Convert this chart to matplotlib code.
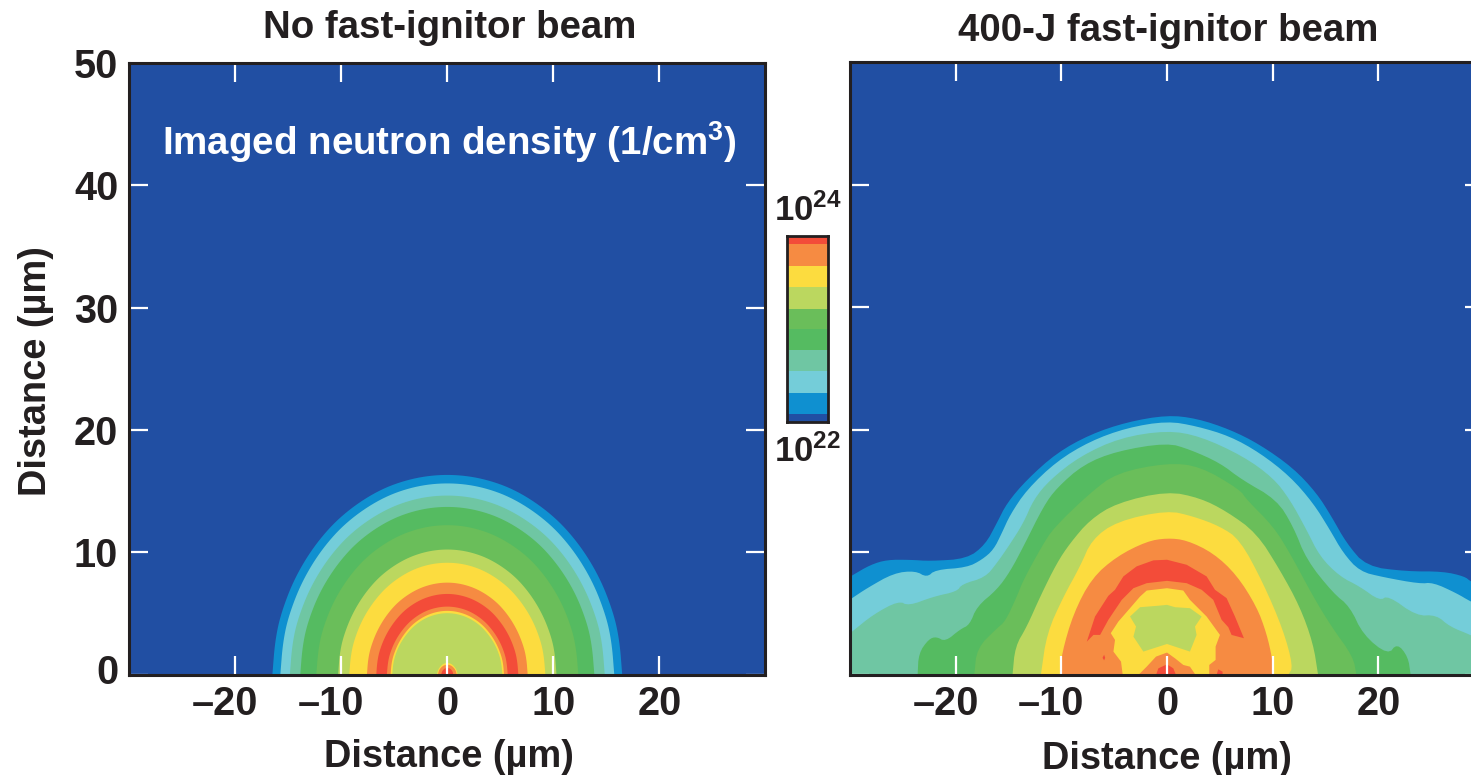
import numpy as np
import matplotlib
matplotlib.use("Agg")
import matplotlib.pyplot as plt
from matplotlib.transforms import ScaledTranslation

plt.rcParams['font.family'] = ['Liberation Sans', 'DejaVu Sans']
plt.rcParams['font.weight'] = 'bold'
plt.rcParams['mathtext.default'] = 'regular'

BG = '#214fa3'
BLUE = '#0f90d0'
LIGHT = '#74cdd9'
TEAL = '#6fc6a3'
GREEN = '#55bb61'
GREEN2 = '#6abe5a'
OLIVE = '#bbd75f'
YELLOW = '#fcdc3f'
ORANGE = '#f68b42'
RED = '#f34c39'
INK = '#231f20'

x_ticks = [-20, -10, 0, 10, 20]
x_tick_labels = ['\u201320', '\u201310', '0', '10', '20']
y_ticks = [0, 10, 20, 30, 40, 50]
y_tick_labels = ['0', '10', '20', '30', '40', '50']

# --- No-beam panel: half contours (x >= 0), mirrored about x = 0
no_beam_levels = [
    (BLUE, [0, 3.3, 6.6, 9.9, 12.38, 14.36, 15.68, 16.25, 16.5], [16.4, 16.07, 15.05, 13.1, 10.76, 7.99, 5.05, 2.77, 0]),
    (LIGHT, [0, 3.15, 6.3, 9.45, 11.81, 13.7, 14.96, 15.51, 15.75], [15.7, 15.39, 14.4, 12.54, 10.3, 7.64, 4.84, 2.65, 0]),
    (TEAL, [0, 2.97, 5.94, 8.91, 11.14, 12.92, 14.11, 14.63, 14.85], [14.7, 14.41, 13.47, 11.74, 9.64, 7.15, 4.53, 2.48, 0]),
    (GREEN, [0, 2.77, 5.55, 8.32, 10.4, 12.07, 13.18, 13.66, 13.87], [13.77, 13.49, 12.62, 11.0, 9.02, 6.7, 4.24, 2.32, 0]),
    (GREEN2, [0, 2.47, 4.94, 7.42, 9.27, 10.75, 11.74, 12.17, 12.36], [12.27, 12.02, 11.24, 9.8, 8.03, 5.96, 3.77, 2.07, 0]),
    (OLIVE, [0, 2.06, 4.12, 6.18, 7.73, 8.96, 9.79, 10.15, 10.3], [10.27, 10.06, 9.41, 8.2, 6.71, 4.98, 3.15, 1.73, 0]),
    (YELLOW, [0, 1.85, 3.7, 5.55, 6.94, 8.05, 8.79, 9.11, 9.25], [9.18, 9.0, 8.41, 7.32, 5.99, 4.45, 2.81, 1.54, 0]),
    (ORANGE, [0, 1.52, 3.03, 4.55, 5.69, 6.59, 7.2, 7.47, 7.58], [7.55, 7.39, 6.91, 6.02, 4.92, 3.65, 2.31, 1.27, 0]),
    (RED, [0, 1.34, 2.68, 4.02, 5.03, 5.83, 6.37, 6.6, 6.7], [6.62, 6.48, 6.06, 5.28, 4.3, 3.19, 2.02, 1.11, 0]),
    (ORANGE, [0, 1.14, 2.28, 3.42, 4.28, 4.96, 5.42, 5.61, 5.7], [5.58, 5.46, 5.11, 4.44, 3.62, 2.69, 1.7, 0.93, 0]),
    (YELLOW, [0, 1.07, 2.14, 3.21, 4.01, 4.65, 5.08, 5.27, 5.35], [5.23, 5.12, 4.78, 4.16, 3.39, 2.51, 1.59, 0.87, 0]),
    (OLIVE, [0, 1.04, 2.08, 3.11, 3.89, 4.52, 4.93, 5.11, 5.19], [5.04, 4.93, 4.61, 4.01, 3.26, 2.42, 1.53, 0.84, 0]),
    (YELLOW, [0, 0.45, 0.85, 0.98], [0.98, 0.85, 0.45, 0]),
    (ORANGE, [0, 0.42, 0.78, 0.88], [0.82, 0.72, 0.38, 0]),
    (RED, [0, 0.28, 0.5, 0.57], [0.55, 0.48, 0.26, 0]),
]

# --- 400-J panel: contours read across the whole width
beam_blue_x = [-30, -29.8, -28.07, -26.5, -24.3, -22.4, -18.94, -17.2, -16.1, -15.15, -13.26, -10.43, -7.28, -3.81, 0,
               2.8, 5.95, 8.79, 11.94, 14.15, 15.56, 16.98, 18.87, 22.65, 26.12, 28.17, 28.73, 30]
beam_blue_y = [8.0, 8.12, 8.99, 9.4, 9.4, 9.29, 9.48, 10.63, 12.4, 14.03, 15.94, 18.12, 19.62, 20.63, 21.2,
               20.93, 20.03, 18.8, 16.89, 14.85, 12.94, 10.76, 8.86, 8.45, 8.45, 8.04, 7.63, 7.1]
beam_light_x = [-30, -29.8, -28.39, -25.87, -23.82, -22.72, -21.93, -18.94, -17.52, -16.41, -15.63, -14.84, -13.26,
                -10.43, -7.28, -3.81, 0, 2.8, 5.95, 8.79, 11.63, 13.83, 15.41, 16.67, 18.24, 20.45, 23.91, 25.17,
                27.38, 28.73, 30]
beam_light_y = [6.15, 6.27, 7.08, 8.31, 8.5, 7.96, 8.58, 8.77, 9.4, 10.22, 11.58, 13.08, 15.12,
                17.44, 19.07, 20.16, 20.71, 20.3, 19.48, 18.12, 16.21, 14.03, 11.85, 9.95, 8.45, 7.98, 7.44, 7.55,
                6.68, 5.99, 5.5]
beam_teal_x = [-30, -29.8, -27.76, -25.39, -24.45, -22.09, -19.88, -19.41, -17.2, -16.1, -15.0, -13.58, -12.63,
               -11.06, -8.22, -4.44, 0, 3.12, 7.21, 10.05, 11.63, 13.2, 14.46, 16.35, 18.24, 20.13, 20.92, 23.6,
               25.49, 26.75, 28.73, 30]
beam_teal_y = [3.4, 3.54, 4.96, 6.05, 5.64, 6.4, 6.81, 7.41, 7.96, 9.13, 10.49, 12.4, 14.31,
               15.94, 17.85, 19.35, 19.95, 19.48, 17.85, 16.08, 14.31, 11.85, 9.67, 8.04, 7.22, 6.05, 6.49, 4.82,
               4.9, 3.95, 3.27, 2.7]
beam_green_x = [-23.6, -23.5, -22.56, -21.83, -20.98, -19.57, -18.68, -17.99, -16.1, -14.84, -13.58, -11.69, -10.43,
                -7.91, -4.76, 0, 2.17, 5.01, 7.06, 10.37, 11.94, 13.2, 15.72, 17.3, 18.56, 20.92, 21.77, 22.81, 23.06]
beam_green_y = [0, 1.77, 2.92, 3.13, 2.72, 3.73, 4.09, 5.59, 6.95, 8.45, 10.49, 13.76, 15.26,
                17.17, 18.26, 18.94, 18.39, 17.3, 15.94, 14.31, 12.13, 9.4, 6.68, 5.59, 3.27, 1.63, 2.59, 1.5, 0]
beam_green2_x = [-18.24, -17.99, -16.1, -15.31, -14.21, -13.58, -11.85, -10.74, -7.28, -4.76, 0,
                 3.12, 6.9, 7.53, 10.05, 11.63, 13.83, 15.56, 17.61, 17.93]
beam_green2_y = [0, 2.18, 3.81, 4.36, 6.4, 7.77, 10.49, 11.99, 14.85, 16.49, 17.3,
                 17.03, 15.12, 14.31, 12.13, 9.95, 6.4, 3.95, 1.5, 0]
beam_olive_x = [-14.62, -14.37, -13.26, -12.0, -10.43, -9.17, -7.28, -4.76, 0, 3.12, 5.64, 8.48, 10.68, 12.57, 13.83, 14.3]
beam_olive_y = [0, 2.32, 3.95, 6.4, 9.13, 10.76, 12.67, 14.03, 14.99, 14.44, 13.35, 11.58, 8.58, 5.59, 2.59, 0]
beam_yellow_x = [-11.94, -11.37, -9.8, -8.22, -7.12, -4.76, 0, 2.49, 5.01, 6.9, 9.11, 11.0, 11.94, 11.47]
beam_yellow_y = [0, 3.41, 6.4, 8.86, 11.04, 12.53, 13.43, 12.94, 12.13, 11.04, 7.49, 3.68, 0.68, 0]
beam_orange_x = [-10.11, -9.96, -8.85, -7.12, -4.76, -1.92, 0, 1.86, 4.38, 6.58, 8.48, 9.42, 9.99, 10.05]
beam_orange_y = [0, 1.77, 5.04, 7.9, 9.67, 10.9, 11.17, 11.0, 9.95, 8.18, 5.59, 3.41, 1.23, 0]
beam_red_x = [-7.59, -6.81, -5.55, -4.92, -4.13, -2.87, -1.29, 0, 1.86, 3.75, 4.54, 5.64, 6.43, 7.28, 6.11, 5.8, 5.17,
              4.38, 3.28, 1.86, 0, -1.92, -3.18, -4.28, -5.55, -6.33, -6.96]
beam_red_y = [2.72, 4.77, 6.46, 6.95, 8.04, 8.86, 9.35, 9.4, 8.99, 8.04, 6.95, 6.27, 4.77, 3.0, 3.27, 3.9, 4.5,
              6.13, 6.95, 7.49, 7.68, 7.49, 7.08, 6.13, 4.5, 3.27, 3.27]
beam_inner_yellow_x = [-4.19, -4.35, -5.07, -4.92, -5.32, -4.6, -3.5, -2.55, -1.92, 0, 1.54, 2.17, 3.75, 5.01, 4.6, 4.6, 4.0, 4.0]
beam_inner_yellow_y = [0, 1.09, 1.91, 2.86, 3.41, 4.36, 5.45, 6.4, 6.89, 7.08, 6.89, 6.13, 4.77, 3.27, 2.32, 1.23, 0.82, 0]
beam_inner_olive_x = [-3.5, -2.93, -3.18, -2.24, 0, 2.17, 2.8, 2.65, 3.28, 2.17, 0.76, 0, -0.82, -2.55]
beam_inner_olive_y = [4.77, 3.95, 3.13, 1.91, 2.53, 1.91, 3.27, 3.95, 4.77, 5.45, 5.53, 5.72, 5.65, 5.53]
beam_core_orange_x = [-2.71, -1.92, -1.04, 0, 0.76, 1.54, 2.17, 2.71]
beam_core_orange_y = [0, 0.68, 1.5, 1.83, 1.36, 0.82, 0.68, 0]
beam_core_red_x = [-1.04, -0.82, 0, 0.6, 0.85]
beam_core_red_y = [0, 0.54, 0.87, 0.54, 0]
beam_dot_a_x = [4.69, 4.85, 5.26, 5.26]
beam_dot_a_y = [0, 0.46, 0.27, 0]
beam_dot_b_x = [-6.1, -5.95, -5.85, -5.95]
beam_dot_b_y = [1.4, 1.65, 1.4, 1.2]

# --- Colour scale (log10 density) from bottom to top
scale_edges = [22.0, 22.087, 22.316, 22.545, 22.775, 23.004, 23.22, 23.45, 23.68, 23.91, 24.0]
scale_colors = [BG, BLUE, LIGHT, TEAL, GREEN, GREEN2, OLIVE, YELLOW, ORANGE, RED]

W, H = 1471, 775
fig = plt.figure(figsize=(W / 100, H / 100), dpi=100, facecolor='white')


def axes_px(left, top, right, bottom):
    return fig.add_axes([left / W, 1 - bottom / H, (right - left) / W, (bottom - top) / H])


def smooth(x, y, n=3):
    x, y = np.asarray(x, float), np.asarray(y, float)
    for _ in range(n):
        qx = 0.75 * x[:-1] + 0.25 * x[1:]
        qy = 0.75 * y[:-1] + 0.25 * y[1:]
        rx = 0.25 * x[:-1] + 0.75 * x[1:]
        ry = 0.25 * y[:-1] + 0.75 * y[1:]
        x = np.r_[x[0], np.column_stack([qx, rx]).ravel(), x[-1]]
        y = np.r_[y[0], np.column_stack([qy, ry]).ravel(), y[-1]]
    return x, y


def style(ax, show_y):
    ax.set_facecolor(BG)
    ax.set_xlim(-30, 30)
    ax.set_ylim(0, 50)
    ax.set_xticks(x_ticks)
    ax.set_xticklabels(x_tick_labels, fontsize=28.5, color=INK)
    ax.set_yticks(y_ticks)
    ax.set_yticklabels(y_tick_labels if show_y else [], fontsize=28.5, color=INK)
    ax.tick_params(axis='both', which='both', direction='in', length=14, width=1.6, color='white',
                   top=True, right=True, bottom=True, left=True)
    ax.tick_params(axis='y', pad=8)
    ax.tick_params(axis='x', pad=7.5)
    for s in ax.spines.values():
        s.set_linewidth(2.2)
        s.set_color(INK)
        s.set_zorder(5)
    for tick in ax.get_xticklabels():
        if tick.get_text().startswith('\u2013'):
            tick.set_transform(tick.get_transform() + ScaledTranslation(-0.10, 0, fig.dpi_scale_trans))


# Left panel
ax1 = axes_px(129.3, 63, 765.3, 674.5)
style(ax1, True)
for color, hx, hy in no_beam_levels:
    hx, hy = np.asarray(hx, float), np.asarray(hy, float)
    sx, sy = smooth(np.r_[-hx[::-1], hx[1:]], np.r_[hy[::-1], hy[1:]])
    ax1.fill(sx, sy, color=color, lw=0)
lab0 = ax1.get_yticklabels()[0]
lab0.set_transform(lab0.get_transform() + ScaledTranslation(0, 6 / 100, fig.dpi_scale_trans))

# Right panel
ax2 = axes_px(850, 62, 1484, 675)
style(ax2, False)
beam_outer = [
    (BLUE, beam_blue_x, beam_blue_y), (LIGHT, beam_light_x, beam_light_y), (TEAL, beam_teal_x, beam_teal_y),
    (GREEN, beam_green_x, beam_green_y), (GREEN2, beam_green2_x, beam_green2_y), (OLIVE, beam_olive_x, beam_olive_y),
    (YELLOW, beam_yellow_x, beam_yellow_y), (ORANGE, beam_orange_x, beam_orange_y),
]
beam_inner = [
    (RED, beam_red_x, beam_red_y), (YELLOW, beam_inner_yellow_x, beam_inner_yellow_y),
    (OLIVE, beam_inner_olive_x, beam_inner_olive_y), (ORANGE, beam_core_orange_x, beam_core_orange_y),
    (RED, beam_core_red_x, beam_core_red_y), (RED, beam_dot_a_x, beam_dot_a_y), (RED, beam_dot_b_x, beam_dot_b_y),
]
for color, x, y in beam_outer:
    x, y = smooth(x, y, 2)
    ax2.fill(np.r_[x[0], x, x[-1]], np.r_[0, y, 0], color=color, lw=0)
for color, x, y in beam_inner:
    ax2.fill(x, y, color=color, lw=0)

# Colour scale
cax = axes_px(787.5, 236, 828, 422)
edges = np.asarray(scale_edges)
cax.bar(0, edges[1:] - edges[:-1], bottom=edges[:-1], width=1, color=scale_colors, lw=0)
cax.set_xlim(-0.5, 0.5)
cax.set_ylim(22, 24)
cax.set_xticks([])
cax.set_yticks([])
for s in cax.spines.values():
    s.set_linewidth(2.0)
    s.set_color(INK)


def ftext(px, py, s, **kw):
    return fig.text(px / W, 1 - py / H, s, ha='center', va='center', **kw)


ftext(450, 28, 'No fast-ignitor beam', fontsize=27.6, color=INK)
ftext(1168.5, 31, '400-J fast-ignitor beam', fontsize=27.6, color=INK)
ftext(449, 757, 'Distance (\u00b5m)', fontsize=27.4, color=INK)
ftext(1167, 759, 'Distance (\u00b5m)', fontsize=27.4, color=INK)
ftext(36, 371, 'Distance (\u00b5m)', fontsize=27.4, color=INK, rotation=90)
ftext(449, 142, 'Imaged neutron density (1/cm$^{3}$)', fontsize=27.7, color='white')
ftext(808, 211, '10$^{24}$', fontsize=25, color=INK)
ftext(808, 452, '10$^{22}$', fontsize=25, color=INK)

fig.savefig('out.png', dpi=100, facecolor='white')
